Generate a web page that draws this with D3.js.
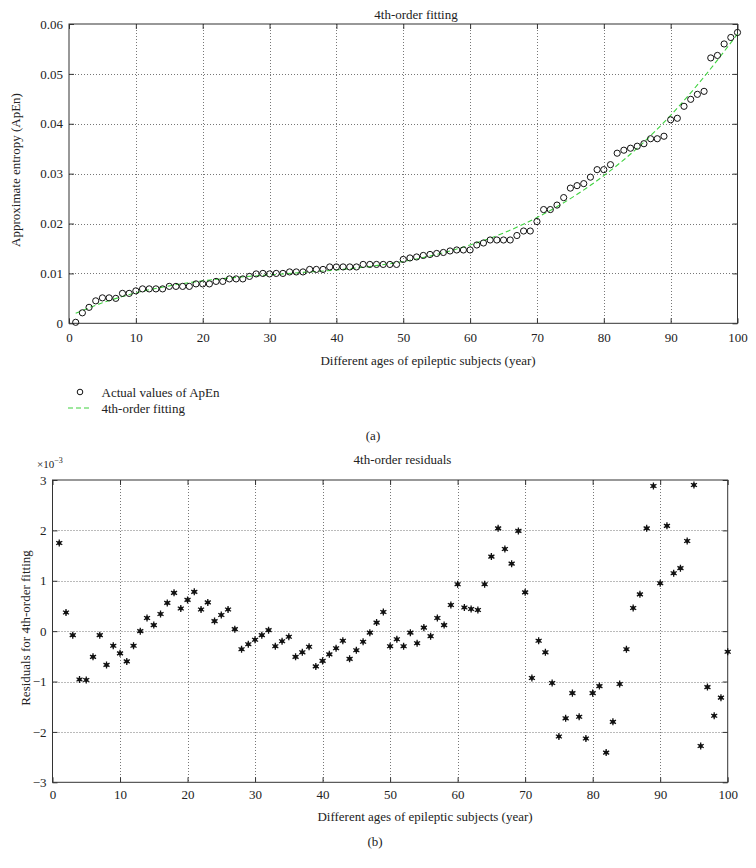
<!DOCTYPE html>
<html><head><meta charset="utf-8">
<script src="https://cdn.jsdelivr.net/npm/d3@7"></script>
<style>body{margin:0;background:#fff}text{font-family:"Liberation Serif","DejaVu Serif",serif;fill:#222}</style>
</head><body><svg id="c" width="756" height="868"></svg>
<script>
// ---------------- data ----------------
const ages = d3.range(1, 101);
const apenValues = [
 0.0002,0.0021,0.0032,0.0045,0.0051,0.0051,0.0050,0.0060,0.0060,0.0065,
 0.0069,0.0069,0.0069,0.0069,0.0074,0.0074,0.0074,0.0074,0.0079,0.0079,
 0.0079,0.0084,0.0084,0.0089,0.0089,0.0089,0.0094,0.0099,0.0100,0.0099,
 0.0100,0.0100,0.0103,0.0103,0.0103,0.0108,0.0108,0.0108,0.0113,0.0113,
 0.0113,0.0113,0.0113,0.0118,0.0118,0.0118,0.0118,0.0118,0.0118,0.0128,
 0.0131,0.0133,0.0136,0.0138,0.0140,0.0142,0.0145,0.0147,0.0147,0.0147,
 0.0157,0.0161,0.0167,0.0167,0.0167,0.0167,0.0176,0.0185,0.0185,0.0204,
 0.0228,0.0228,0.0237,0.0252,0.0271,0.0276,0.0280,0.0293,0.0308,0.0308,
 0.0318,0.0341,0.0347,0.0351,0.0355,0.0360,0.0370,0.0370,0.0375,0.0408,
 0.0411,0.0435,0.0449,0.0459,0.0465,0.0532,0.0537,0.0560,0.0573,0.0583];
const fitAges = [1,5,10,15,20,25,30,35,40,45,50,55,60,65,70,75,80,85,90,95,100];
const fitValues = [0.0020,0.0041,0.0061,0.0075,0.0085,0.0092,0.0097,0.0102,0.0107,0.0114,
 0.0124,0.0138,0.0157,0.0181,0.0212,0.0250,0.0296,0.0351,0.0417,0.0494,0.0580];
// residuals in units of 1e-3
const residualValues = [
 1.75,0.37,-0.08,-0.96,-0.97,-0.51,-0.08,-0.67,-0.29,-0.44,
 -0.60,-0.29,0.00,0.26,0.12,0.34,0.56,0.76,0.45,0.62,
 0.78,0.43,0.57,0.20,0.32,0.43,0.04,-0.36,-0.26,-0.17,
 -0.08,0.02,-0.30,-0.20,-0.11,-0.51,-0.42,-0.31,-0.70,-0.59,
 -0.46,-0.34,-0.19,-0.55,-0.38,-0.21,-0.03,0.17,0.38,-0.30,
 -0.16,-0.30,-0.03,-0.24,0.07,-0.10,0.26,0.12,0.52,0.93,
 0.47,0.44,0.42,0.93,1.48,2.04,1.63,1.34,1.99,0.77,
 -0.93,-0.19,-0.42,-1.03,-2.09,-1.73,-1.23,-1.70,-2.13,-1.23,
 -1.09,-2.41,-1.80,-1.05,-0.36,0.46,0.73,2.04,2.88,0.95,
 2.09,1.15,1.25,1.79,2.90,-2.28,-1.11,-1.68,-1.32,-0.41];
const xTicks = [0,10,20,30,40,50,60,70,80,90,100];
const apenTicks = [0,0.01,0.02,0.03,0.04,0.05,0.06];
const residTicks = [-3,-2,-1,0,1,2,3];
const xLabel = "Different ages of epileptic subjects (year)";

// ---------------- drawing ----------------
const svg = d3.select("#c");
const FS = 13;
const axisColor = "#333";

function panel(cfg) {
  const g = svg.append("g");
  const x = d3.scaleLinear().domain([0,100]).range([cfg.left, cfg.right]);
  const y = d3.scaleLinear().domain(cfg.ydom).range([cfg.bottom, cfg.top]);
  const grid = g.append("g").attr("stroke", "#777").attr("stroke-width", 1).attr("stroke-dasharray", "1,2");
  grid.selectAll(".gx").data(xTicks.slice(1, -1)).join("line")
    .attr("x1", d => Math.round(x(d)) + 0.5).attr("x2", d => Math.round(x(d)) + 0.5)
    .attr("y1", cfg.top).attr("y2", cfg.bottom);
  grid.selectAll(".gy").data(cfg.yticks.slice(1, -1)).join("line")
    .attr("y1", d => Math.round(y(d)) + 0.5).attr("y2", d => Math.round(y(d)) + 0.5)
    .attr("x1", cfg.left).attr("x2", cfg.right);
  const style = sel => { sel.select(".domain").remove(); sel.selectAll("line").attr("stroke", axisColor);
    sel.selectAll("text").attr("font-size", FS).attr("font-family", '"Liberation Serif",serif').attr("fill", "#222"); };
  g.append("g").attr("transform", `translate(0,${cfg.bottom})`)
    .call(d3.axisBottom(x).tickValues(xTicks).tickSize(-5).tickPadding(cfg.xpad)).call(style);
  g.append("g").attr("transform", `translate(0,${cfg.top})`)
    .call(d3.axisTop(x).tickValues(xTicks).tickSize(-5).tickFormat("")).call(style);
  g.append("g").attr("transform", `translate(${cfg.left},0)`)
    .call(d3.axisLeft(y).tickValues(cfg.yticks).tickSize(-5).tickPadding(6).tickFormat(cfg.yfmt)).call(style);
  g.append("g").attr("transform", `translate(${cfg.right},0)`)
    .call(d3.axisRight(y).tickValues(cfg.yticks).tickSize(-5).tickFormat("")).call(style);
  g.append("rect").attr("x", cfg.left).attr("y", cfg.top)
    .attr("width", cfg.right - cfg.left).attr("height", cfg.bottom - cfg.top)
    .attr("fill", "none").attr("stroke", axisColor).attr("stroke-width", 1);
  return {g, x, y};
}

// ---- top panel ----
const topP = panel({left: 69, right: 737.5, top: 24, bottom: 323.3, ydom: [0, 0.06],
  yticks: apenTicks, xpad: 9, yfmt: d => d === 0 ? "0" : d.toFixed(2)});
const fitLine = d3.line().x((d, i) => topP.x(fitAges[i])).y(d => topP.y(d)).curve(d3.curveCatmullRom);
topP.g.append("path").datum(fitValues).attr("d", fitLine)
  .attr("fill", "none").attr("stroke", "#3fd23f").attr("stroke-width", 1.1).attr("stroke-dasharray", "5,3");
topP.g.selectAll(".pt").data(apenValues).join("circle")
  .attr("cx", (d, i) => topP.x(ages[i])).attr("cy", d => topP.y(d)).attr("r", 3.1)
  .attr("fill", "none").attr("stroke", "#111").attr("stroke-width", 1);
svg.append("text").attr("x", 416).attr("y", 18.5).attr("text-anchor", "middle").attr("font-size", FS).text("4th-order fitting");
svg.append("text").attr("x", 428).attr("y", 364.5).attr("text-anchor", "middle").attr("font-size", FS).text(xLabel);
svg.append("text").attr("transform", "translate(15,170) rotate(-90)").attr("dy", "0.35em")
  .attr("text-anchor", "middle").attr("font-size", FS).text("Approximate entropy (ApEn)");
// legend
svg.append("circle").attr("cx", 80).attr("cy", 392).attr("r", 2.8).attr("fill", "none").attr("stroke", "#111");
svg.append("text").attr("x", 101.5).attr("y", 392).attr("dy", "0.35em").attr("font-size", FS).text("Actual values of ApEn");
svg.append("line").attr("x1", 68).attr("x2", 92).attr("y1", 408).attr("y2", 408)
  .attr("stroke", "#3fd23f").attr("stroke-width", 1.1).attr("stroke-dasharray", "5,3");
svg.append("text").attr("x", 101.5).attr("y", 408).attr("dy", "0.35em").attr("font-size", FS).text("4th-order fitting");
svg.append("text").attr("x", 373).attr("y", 435).attr("dy", "0.35em").attr("text-anchor", "middle").attr("font-size", FS).text("(a)");

// ---- bottom panel ----
const botP = panel({left: 52.5, right: 727.7, top: 480, bottom: 782.3, ydom: [-3, 3],
  yticks: residTicks, xpad: 7.5, yfmt: d3.format("d")});
const star = d3.symbol(d3.symbolAsterisk, 34);
const pts = botP.g.selectAll(".rs").data(residualValues).join("g")
  .attr("transform", (d, i) => `translate(${botP.x(ages[i])},${botP.y(d)})`);
pts.append("path").attr("d", star).attr("stroke", "#111").attr("stroke-width", 1.3).attr("fill", "none");
pts.append("circle").attr("r", 2).attr("fill", "#111");
svg.append("text").attr("x", 402.5).attr("y", 459).attr("dy", "0.35em").attr("text-anchor", "middle").attr("font-size", FS).text("4th-order residuals");
const sc = svg.append("text").attr("x", 37).attr("y", 464).attr("dy", "0.35em").attr("font-size", 11);
sc.append("tspan").text("×10");
sc.append("tspan").attr("font-size", 8).attr("dy", "-0.6em").text("−3");
svg.append("text").attr("x", 425).attr("y", 816.7).attr("dy", "0.35em").attr("text-anchor", "middle").attr("font-size", FS).text(xLabel);
svg.append("text").attr("transform", "translate(25,628) rotate(-90)").attr("dy", "0.35em")
  .attr("text-anchor", "middle").attr("font-size", FS).text("Residuals for 4th-order fitting");
svg.append("text").attr("x", 375).attr("y", 841.7).attr("dy", "0.35em").attr("text-anchor", "middle").attr("font-size", FS).text("(b)");
</script></body></html>
